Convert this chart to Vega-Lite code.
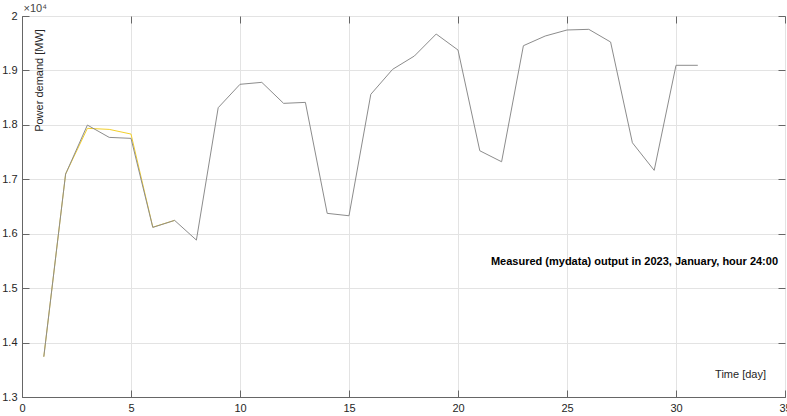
{
  "$schema": "https://vega.github.io/schema/vega-lite/v6.json",
  "width": 763,
  "height": 381,
  "autosize": {"type": "none"},
  "padding": {"left": 22, "top": 16, "right": 2, "bottom": 19},
  "background": "white",
  "config": {
    "font": "Liberation Sans",
    "view": {"stroke": "#666666", "strokeWidth": 1},
    "axis": {
      "domainColor": "#666666",
      "tickColor": "#666666",
      "gridColor": "#e3e3e3",
      "labelColor": "#262626",
      "labelFontSize": 11,
      "labelFont": "Liberation Sans",
      "tickSize": -7
    }
  },
  "data": {
    "values": [
      {"day": 1, "series": "gray", "value": 13740},
      {"day": 2, "series": "gray", "value": 17096},
      {"day": 3, "series": "gray", "value": 17996},
      {"day": 4, "series": "gray", "value": 17770},
      {"day": 5, "series": "gray", "value": 17752},
      {"day": 6, "series": "gray", "value": 16116},
      {"day": 7, "series": "gray", "value": 16245},
      {"day": 8, "series": "gray", "value": 15883},
      {"day": 9, "series": "gray", "value": 18315},
      {"day": 10, "series": "gray", "value": 18745},
      {"day": 11, "series": "gray", "value": 18781},
      {"day": 12, "series": "gray", "value": 18395},
      {"day": 13, "series": "gray", "value": 18413},
      {"day": 14, "series": "gray", "value": 16374},
      {"day": 15, "series": "gray", "value": 16330},
      {"day": 16, "series": "gray", "value": 18561},
      {"day": 17, "series": "gray", "value": 19020},
      {"day": 18, "series": "gray", "value": 19265},
      {"day": 19, "series": "gray", "value": 19669},
      {"day": 20, "series": "gray", "value": 19375},
      {"day": 21, "series": "gray", "value": 17524},
      {"day": 22, "series": "gray", "value": 17322},
      {"day": 23, "series": "gray", "value": 19454},
      {"day": 24, "series": "gray", "value": 19632},
      {"day": 25, "series": "gray", "value": 19743},
      {"day": 26, "series": "gray", "value": 19755},
      {"day": 27, "series": "gray", "value": 19522},
      {"day": 28, "series": "gray", "value": 17671},
      {"day": 29, "series": "gray", "value": 17164},
      {"day": 30, "series": "gray", "value": 19094},
      {"day": 31, "series": "gray", "value": 19094},
      {"day": 1, "series": "yellow", "value": 13740},
      {"day": 2, "series": "yellow", "value": 17096},
      {"day": 3, "series": "yellow", "value": 17936},
      {"day": 4, "series": "yellow", "value": 17917},
      {"day": 5, "series": "yellow", "value": 17831},
      {"day": 6, "series": "yellow", "value": 16120},
      {"day": 7, "series": "yellow", "value": 16245}
    ]
  },
  "layer": [
    {
      "transform": [{"filter": "datum.series === 'yellow'"}],
      "mark": {"type": "line", "color": "#f2cf2c", "strokeWidth": 1},
      "encoding": {
        "x": {
          "field": "day", "type": "quantitative",
          "scale": {"domain": [0, 35], "nice": false, "zero": false},
          "axis": {"orient": "bottom", "values": [0, 5, 10, 15, 20, 25, 30, 35], "title": null, "grid": true, "labelPadding": 12, "labelFlush": false}
        },
        "y": {
          "field": "value", "type": "quantitative",
          "scale": {"domain": [13000, 20000], "nice": false, "zero": false},
          "axis": {
            "orient": "left",
            "values": [13000, 14000, 15000, 16000, 17000, 18000, 19000, 20000],
            "grid": true,
            "labelExpr": "format(datum.value / 10000, '.1~f')",
            "labelPadding": 12,
            "labelFlush": false,
            "title": "×10⁴",
            "titleAngle": 0,
            "titleAlign": "left",
            "titleBaseline": "bottom",
            "titleX": 1,
            "titleY": -3,
            "titleFontSize": 11,
            "titleFontWeight": "normal",
            "titleColor": "#444444",
            "titleFont": "Liberation Sans"
          }
        }
      }
    },
    {
      "transform": [{"filter": "datum.series === 'gray'"}],
      "mark": {"type": "line", "color": "#8c8c8c", "strokeWidth": 1},
      "encoding": {
        "x": {
          "field": "day", "type": "quantitative",
          "axis": {"orient": "top", "values": [0, 5, 10, 15, 20, 25, 30, 35], "title": null, "grid": false, "labels": false, "domain": false}
        },
        "y": {
          "field": "value", "type": "quantitative",
          "axis": {"orient": "right", "values": [13000, 14000, 15000, 16000, 17000, 18000, 19000, 20000], "title": null, "grid": false, "labels": false, "domain": false}
        }
      }
    },
    {
      "data": {"values": [{}]},
      "mark": {"type": "text", "text": "Measured (mydata) output in 2023, January, hour 24:00", "align": "right", "baseline": "middle", "fontWeight": "bold", "fontSize": 11, "color": "#000000", "font": "Liberation Sans"},
      "encoding": {
        "x": {"datum": 34.68, "type": "quantitative", "axis": null},
        "y": {"datum": 15478, "type": "quantitative", "axis": null}
      }
    },
    {
      "data": {"values": [{}]},
      "mark": {"type": "text", "text": "Time [day]", "align": "right", "baseline": "middle", "fontSize": 11, "color": "#262626", "font": "Liberation Sans"},
      "encoding": {
        "x": {"datum": 34.13, "type": "quantitative", "axis": null},
        "y": {"datum": 13401, "type": "quantitative", "axis": null}
      }
    },
    {
      "data": {"values": [{}]},
      "mark": {"type": "text", "text": "Power demand [MW]", "align": "center", "baseline": "middle", "angle": 270, "fontSize": 11, "color": "#262626", "font": "Liberation Sans"},
      "encoding": {
        "x": {"datum": 0.83, "type": "quantitative", "axis": null},
        "y": {"datum": 18815, "type": "quantitative", "axis": null}
      }
    }
  ]
}
